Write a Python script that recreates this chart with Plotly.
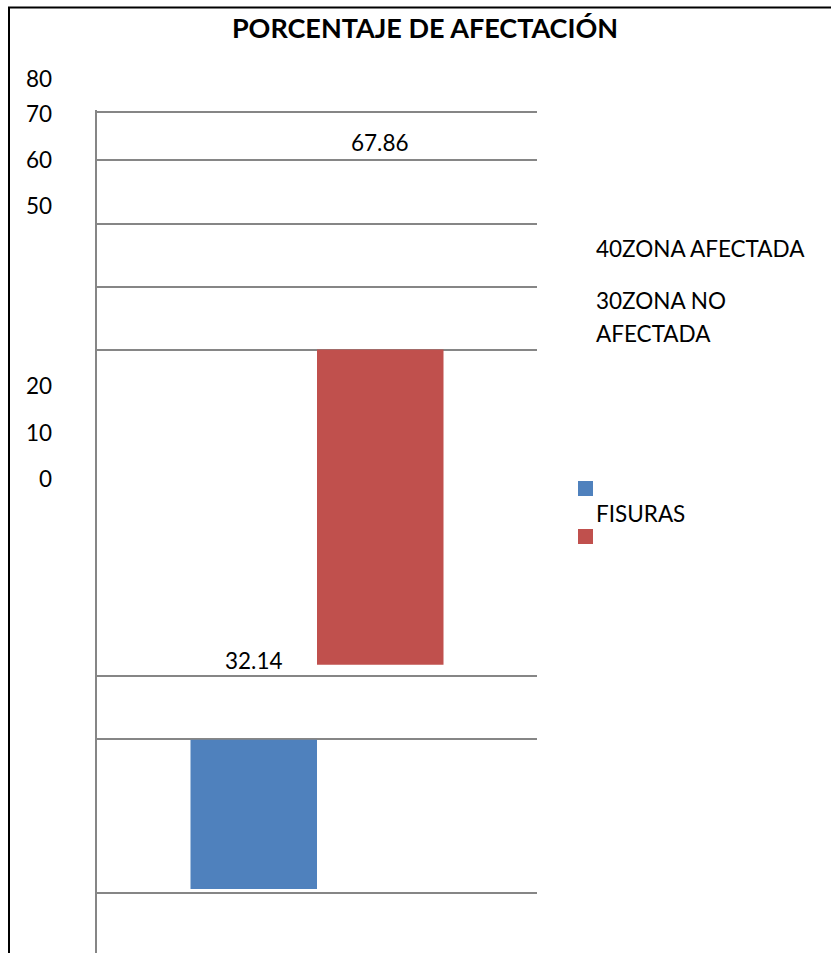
import plotly.graph_objects as go

# ---------------- data ----------------
TITLE = "PORCENTAJE DE AFECTACIÓN"
CATEGORY = ["FISURAS"]
SERIES = ["ZONA AFECTADA", "ZONA NO AFECTADA"]
ZONA_AFECTADA = [32.14]
ZONA_NO_AFECTADA = [67.86]
TICK_LABELS = ["80", "70", "60", "50", "40", "30", "20", "10", "0"]

# ---------------- layout constants (pixels of the 831x953 page) ----------------
W, H = 831, 953
PLOT_L, PLOT_R, PLOT_T, PLOT_B = 97, 537, 110, 953
ZERO_PX = 889.0          # pixel row of value 0
PX_PER_UNIT = 4.645      # vertical scale
RED_BASE_PX = 664.7      # where the second bar starts (displaced in the original)
GRID_PX = [112, 160, 224, 287, 350, 676, 739, 893]
TICK_PX = {"80": 78.5, "70": 113.5, "60": 159, "50": 205.5, "20": 386, "10": 432.5, "0": 478}
BLUE = "#4F81BD"
RED = "#C0504D"
GRID = "#868686"
FONT = "Lato"
FS = 22.5


def u(p):  # pixel row -> data value
    return (ZERO_PX - p) / PX_PER_UNIT


def px_x(p):  # pixel column -> paper x
    return (p - PLOT_L) / (PLOT_R - PLOT_L)


def px_y(p):  # pixel row -> paper y
    return (PLOT_B - p) / (PLOT_B - PLOT_T)


fig = go.Figure()
fig.add_trace(go.Bar(x=CATEGORY, y=ZONA_AFECTADA, name=SERIES[0],
                     marker=dict(color=BLUE, line=dict(width=0))))
fig.add_trace(go.Bar(x=CATEGORY, y=ZONA_NO_AFECTADA, name=SERIES[1],
                     base=[u(RED_BASE_PX)],
                     marker=dict(color=RED, line=dict(width=0))))

txt = dict(family=FONT, size=FS, color="black")
annotations = []
# data labels (displaced as in the original)
annotations.append(dict(text=f"{ZONA_AFECTADA[0]:.2f}", xref="paper", yref="paper",
                        x=px_x(253.5), y=px_y(660), xanchor="center", yanchor="middle",
                        showarrow=False, font=txt))
annotations.append(dict(text=f"{ZONA_NO_AFECTADA[0]:.2f}", xref="paper", yref="paper",
                        x=px_x(380), y=px_y(142), xanchor="center", yanchor="middle",
                        showarrow=False, font=txt))
# tick labels on the left
for lab, p in TICK_PX.items():
    annotations.append(dict(text=lab, xref="paper", yref="paper", x=px_x(54), y=px_y(p),
                            xanchor="right", yanchor="middle", showarrow=False, font=txt))
# garbled legend texts
annotations.append(dict(text=TICK_LABELS[4] + SERIES[0], xref="paper", yref="paper",
                        x=px_x(594), y=px_y(248), xanchor="left", yanchor="middle",
                        showarrow=False, font=txt))
annotations.append(dict(text=TICK_LABELS[5] + SERIES[1].rsplit(" ", 1)[0], xref="paper", yref="paper",
                        x=px_x(594), y=px_y(300), xanchor="left", yanchor="middle",
                        showarrow=False, font=txt))
annotations.append(dict(text=SERIES[1].rsplit(" ", 1)[1], xref="paper", yref="paper",
                        x=px_x(594), y=px_y(333.5), xanchor="left", yanchor="middle",
                        showarrow=False, font=txt))
annotations.append(dict(text=CATEGORY[0], xref="paper", yref="paper",
                        x=px_x(594), y=px_y(513), xanchor="left", yanchor="middle",
                        showarrow=False, font=txt))

shapes = [
    # legend swatches
    dict(type="rect", xref="paper", yref="paper", x0=px_x(578), x1=px_x(593),
         y0=px_y(496), y1=px_y(481), fillcolor=BLUE, line=dict(width=0)),
    dict(type="rect", xref="paper", yref="paper", x0=px_x(578), x1=px_x(593),
         y0=px_y(544), y1=px_y(529), fillcolor=RED, line=dict(width=0)),
    # outer frame (left and top)
    dict(type="line", xref="paper", yref="paper", x0=px_x(9), x1=px_x(9),
         y0=px_y(7), y1=px_y(953), line=dict(color="black", width=2)),
    dict(type="line", xref="paper", yref="paper", x0=px_x(8), x1=px_x(831),
         y0=px_y(7.5), y1=px_y(7.5), line=dict(color="black", width=2)),
]

fig.update_layout(
    width=W, height=H,
    margin=dict(l=PLOT_L, r=W - PLOT_R, t=PLOT_T, b=H - PLOT_B, pad=0),
    paper_bgcolor="white", plot_bgcolor="white",
    barmode="group", bargap=0.425, bargroupgap=0,
    showlegend=False,
    title=dict(text=f"<b>{TITLE}</b>", x=425 / W, y=1 - 29 / H, xanchor="center",
               yanchor="middle", font=dict(family=FONT, size=27, color="black")),
    xaxis=dict(showgrid=False, zeroline=False, showline=False, showticklabels=False,
               ticks="", fixedrange=True),
    yaxis=dict(range=[u(PLOT_B), u(PLOT_T)], tickmode="array",
               tickvals=[u(p) for p in GRID_PX], showticklabels=False, ticks="",
               showgrid=True, gridcolor=GRID, gridwidth=2, zeroline=False,
               showline=True, linecolor=GRID, linewidth=2),
    annotations=annotations,
    shapes=shapes,
)

fig.write_html("out.html")
